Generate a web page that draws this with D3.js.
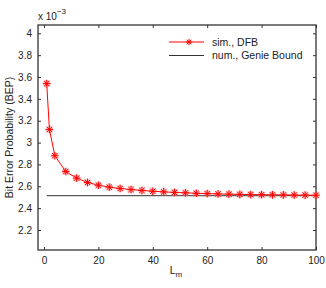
<!DOCTYPE html>
<html>
<head>
<meta charset="utf-8">
<script src="https://cdn.jsdelivr.net/npm/d3@7"></script>
<style>
  body { margin: 0; background: #fff; }
  text { font-family: "Liberation Sans", Arial, sans-serif; }
</style>
</head>
<body>
<div id="chart"></div>
<script>
// window length L_m
var lm = [1, 2, 4, 8, 12, 16, 20, 24, 28, 32, 36, 40, 44, 48, 52, 56, 60, 64, 68, 72, 76, 80, 84, 88, 92, 96, 100];
// simulated BEP (x 1e-3), DFB
var bepSim = [3.54, 3.12, 2.88, 2.735, 2.675, 2.635, 2.61, 2.592, 2.58, 2.57, 2.562, 2.555, 2.549, 2.544, 2.54, 2.536, 2.533, 2.53, 2.528, 2.526, 2.524, 2.523, 2.522, 2.521, 2.52, 2.519, 2.518];
// numerical genie bound (x 1e-3)
var genieX = [1, 100];
var genieY = [2.514, 2.514];
var xTicks = [0, 20, 40, 60, 80, 100];
var yTicks = [2.2, 2.4, 2.6, 2.8, 3, 3.2, 3.4, 3.6, 3.8, 4];
var legendNames = ["sim., DFB", "num., Genie Bound"];

var W = 326, H = 288;
var margin = {top: 25, right: 10, bottom: 38, left: 38};
var width = W - margin.left - margin.right,
    height = H - margin.top - margin.bottom;

var svg = d3.select("#chart").append("svg")
    .attr("width", W).attr("height", H);
var g = svg.append("g")
    .attr("transform", "translate(" + margin.left + "," + margin.top + ")");

var x = d3.scaleLinear().domain([-2.2, 100]).range([0, width]);
var y = d3.scaleLinear().domain([2.017, 4.076]).range([height, 0]);

// ticks pointing inwards on all four sides
var tl = 3;
g.append("g").attr("transform", "translate(0," + height + ")")
  .call(d3.axisBottom(x).tickValues(xTicks).tickSizeInner(-tl).tickSizeOuter(0).tickPadding(7));
g.append("g")
  .call(d3.axisTop(x).tickValues(xTicks).tickSizeInner(-tl).tickSizeOuter(0).tickFormat(""));
g.append("g")
  .call(d3.axisLeft(y).tickValues(yTicks).tickSizeInner(-tl).tickSizeOuter(0).tickPadding(6).tickFormat(d3.format("")));
g.append("g").attr("transform", "translate(" + width + ",0)")
  .call(d3.axisRight(y).tickValues(yTicks).tickSizeInner(-tl).tickSizeOuter(0).tickFormat(""));

g.selectAll(".domain").remove();
g.selectAll(".tick line").attr("stroke", "#333");
g.selectAll(".tick text").attr("font-size", 10).attr("fill", "#222")
  .style("font-family", "Liberation Sans, Arial, sans-serif");

g.append("rect")
  .attr("width", width).attr("height", height)
  .attr("fill", "none").attr("stroke", "#333").attr("stroke-width", 1.3);

// genie bound line
var line = d3.line().x(function(d){ return x(d[0]); }).y(function(d){ return y(d[1]); });
g.append("path")
  .datum(d3.zip(genieX, genieY))
  .attr("fill", "none").attr("stroke", "#333").attr("stroke-width", 1)
  .attr("d", line);

// simulated curve
var sim = d3.zip(lm, bepSim);
g.append("path")
  .datum(sim)
  .attr("fill", "none").attr("stroke", "red").attr("stroke-width", 1)
  .attr("d", line);

function star(sel, r) {
  sel.append("path")
    .attr("d", "M" + (-r) + ",0H" + r + "M0," + (-r) + "V" + r +
      "M" + (-r*0.7) + "," + (-r*0.7) + "L" + (r*0.7) + "," + (r*0.7) +
      "M" + (-r*0.7) + "," + (r*0.7) + "L" + (r*0.7) + "," + (-r*0.7))
    .attr("stroke", "red").attr("stroke-width", 1).attr("fill", "none");
}

g.selectAll(".mk").data(sim).enter().append("g")
  .attr("class", "mk")
  .attr("transform", function(d){ return "translate(" + x(d[0]) + "," + y(d[1]) + ")"; })
  .each(function(){
    d3.select(this).append("circle").attr("r", 3.8).attr("fill", "#ff8888").attr("opacity", 0.5);
    star(d3.select(this), 3.8);
  });

// exponent label
var ex = svg.append("text").attr("x", margin.left).attr("y", 20).attr("font-size", 10).attr("fill", "#222");
ex.append("tspan").text("x 10");
ex.append("tspan").attr("dy", -6).attr("font-size", 8).text("\u22123");

// axis labels
svg.append("text")
  .attr("transform", "translate(13," + (margin.top + height / 2) + ") rotate(-90)")
  .attr("text-anchor", "middle").attr("font-size", 10.5).attr("fill", "#222")
  .text("Bit Error Probability (BEP)");

var xl = svg.append("text")
  .attr("x", margin.left + x(50) - 4).attr("y", 274)
  .attr("text-anchor", "middle").attr("font-size", 10.5).attr("fill", "#222");
xl.append("tspan").text("L");
xl.append("tspan").attr("dy", 3).attr("font-size", 8).text("m");

// legend
var lg = g.append("g").attr("transform", "translate(131,17)");
var rows = lg.selectAll("g").data(legendNames).enter().append("g")
  .attr("transform", function(d, i){ return "translate(0," + (i * 13.5) + ")"; });
rows.append("line").attr("x1", 0).attr("x2", 35)
  .attr("stroke", function(d, i){ return i === 0 ? "red" : "#333"; });
rows.filter(function(d, i){ return i === 0; }).append("g")
  .attr("transform", "translate(20,0)")
  .each(function(){ star(d3.select(this), 3.2); });
rows.append("text").attr("x", 43).attr("dy", "0.35em")
  .attr("font-size", 10.5).attr("fill", "#222")
  .text(function(d){ return d; });
</script>
</body>
</html>
